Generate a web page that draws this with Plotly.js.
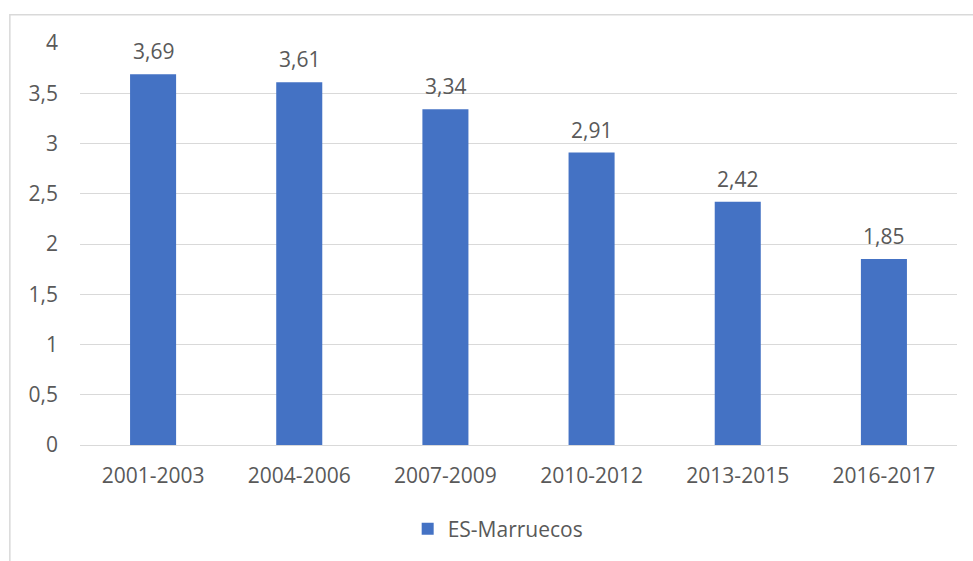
<!DOCTYPE html>
<html><head><meta charset="utf-8">
<script src="https://cdn.plot.ly/plotly-3.0.1.min.js"></script>
<style>html,body{margin:0;padding:0;background:#fff}#chart{width:973px;height:561px}</style>
</head><body><div id="chart"></div>
<script>
const categories = ['2001-2003','2004-2006','2007-2009','2010-2012','2013-2015','2016-2017'];
const values = [3.69, 3.61, 3.34, 2.91, 2.42, 1.85];
const seriesName = 'ES-Marruecos';
const yTicks = [0, 0.5, 1, 1.5, 2, 2.5, 3, 3.5, 4];

const font = {family: 'Open Sans, Noto Sans, sans-serif', size: 21, color: '#595959'};
const trace = {
  type: 'bar', x: categories, y: values, name: seriesName,
  marker: {color: '#4472c4'}, width: 0.315,
  hoverinfo: 'none'
};
const annotations = categories.map((c, i) => ({
  x: c, y: values[i], xref: 'x', yref: 'y',
  text: values[i].toFixed(2).replace('.', ','),
  showarrow: false, yanchor: 'bottom', yshift: 7,
  font: font
}));
const layout = {
  width: 973, height: 561,
  margin: {l: 80, r: 16, t: 43, b: 116},
  paper_bgcolor: '#fff', plot_bgcolor: '#fff',
  separators: ',.',
  font: font,
  showlegend: true,
  legend: {orientation: 'h', x: 0.512, xanchor: 'center', xref: 'container', y: (561 - 529) / 561, yanchor: 'middle', yref: 'container', font: font},
  xaxis: {type: 'category', showgrid: false, showline: false, ticks: '', tickfont: font, ticklabelstandoff: 16, automargin: false},
  yaxis: {range: [0, 4], tickvals: yTicks, ticktext: yTicks.map(v => String(v).replace('.', ',')),
          showgrid: true, gridcolor: '#d9d9d9', gridwidth: 1, zeroline: true, zerolinecolor: '#d9d9d9',
          zerolinewidth: 1, showline: false, ticks: '', tickfont: font, ticklabelstandoff: 21, automargin: false},
  annotations: annotations,
  shapes: [{type: 'rect', xref: 'paper', yref: 'paper', x0: -0.08, x1: 1.05, y0: -0.5, y1: 1.07,
            line: {color: '#d9d9d9', width: 1.5}, fillcolor: 'rgba(0,0,0,0)', layer: 'below'}]
};
Plotly.newPlot('chart', [trace], layout, {displayModeBar: false, staticPlot: true});
</script></body></html>
